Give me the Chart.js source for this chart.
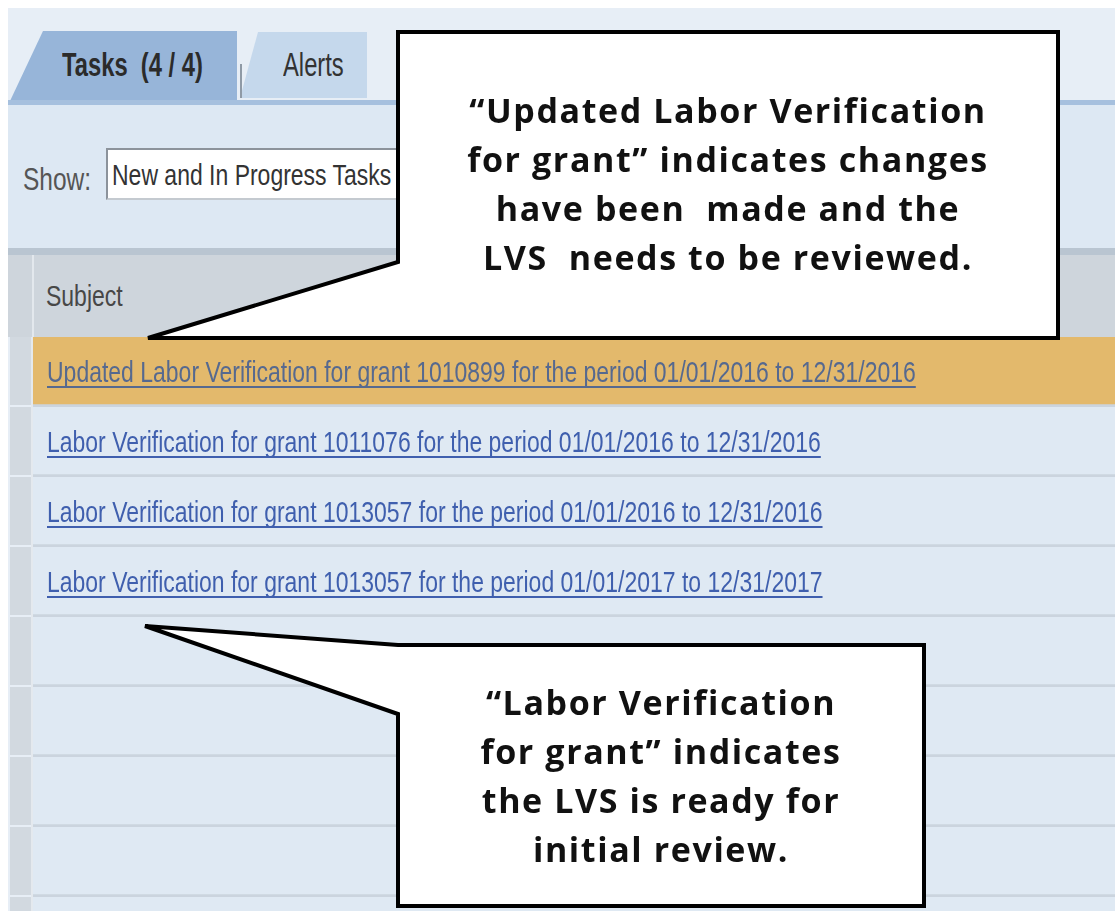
<!DOCTYPE HTML>
<html>
  <head>
    <script src="https://cdn.jsdelivr.net/npm/chart.js"></script>
    <style>
      body { margin: 0; width: 1115px; height: 911px; overflow: hidden; position: relative; background: #fff; font-family: "Liberation Sans", Arial, sans-serif; }
      .abs { position: absolute; }
      .narrow { display: inline-block; white-space: nowrap; transform: scaleX(0.766); transform-origin: left center; }
      .callout-text { position: absolute; text-align: center; font-family: "Open Sans", sans-serif; font-weight: 700; font-size: 34px; letter-spacing: 1.6px; line-height: 49px; color: #111; white-space: nowrap; }
    </style>
  </head>
  <body>
    <!-- frame and toolbar -->
    <div class="abs" style="left:8px; top:8px; right:0; bottom:0; background:#e7eef6;"></div>
    <div class="abs" style="left:10px; top:31px; width:227px; height:70px; background:#97b5d9; clip-path: polygon(33px 0, 100% 0, 100% 100%, 0 100%);"></div>
    <div class="abs" style="left:240px; top:32px; width:127px; height:66px; background:#c5d8ec; clip-path: polygon(18px 0, 100% 0, 100% 100%, 0 100%);"></div>
    <div class="abs" style="left:240px; top:64px; width:2px; height:34px; background:#8f9aa6;"></div>
    <div class="abs" style="left:62px; top:46px; font-size:33px; font-weight:bold; color:#2b2b2b;"><span class="narrow" style="transform:scaleX(0.72)">Tasks&nbsp; (4 / 4)</span></div>
    <div class="abs" style="left:283px; top:46px; font-size:33px; color:#333;"><span class="narrow" style="transform:scaleX(0.72)">Alerts</span></div>
    <div class="abs" style="left:8px; top:100px; right:0; height:5px; background:#a6c0de;"></div>
    <div class="abs" style="left:8px; top:105px; right:0; height:143px; background:#dde8f3;"></div>
    <div class="abs" style="left:23px; top:162px; font-size:31px; color:#555;"><span class="narrow" style="transform:scaleX(0.79)">Show:</span></div>
    <div class="abs" style="left:106px; top:148px; width:400px; height:48px; background:#fff; border-top:2px solid #8c939b; border-left:2px solid #8c939b; border-bottom:2px solid #c4cad0;"></div>
    <div class="abs" style="left:112px; top:158px; font-size:30px; color:#333;"><span class="narrow">New and In Progress Tasks</span></div>
    <div class="abs" style="left:8px; top:248px; right:0; height:7px; background:#b9c5d1;"></div>
    <div class="abs" style="left:8px; top:255px; right:0; height:82px; background:#ced5dc;"></div>
    <div class="abs" style="left:32px; top:255px; width:2px; height:82px; background:#e3e8ed;"></div>
    <div class="abs" style="left:46px; top:279px; font-size:30px; color:#474747;"><span class="narrow">Subject</span></div>

    <!-- task rows -->
    <div class="abs" style="left:10px; top:337px; width:1105px; height:630px;">
      <canvas id="task-chart"></canvas>
    </div>

    <!-- callouts -->
    <svg class="abs" style="left:0; top:0;" width="1115" height="911">
      <polygon points="398,32 1058,32 1058,338 148,338 398,262" fill="#fff" stroke="#000" stroke-width="4" stroke-linejoin="miter"/>
      <polygon points="145,626 398,645 924,645 924,906 398,906 398,714" fill="#fff" stroke="#000" stroke-width="4" stroke-linejoin="miter"/>
    </svg>
    <div class="callout-text" style="left:398px; width:660px; top:86px;">“Updated Labor Verification<br>for grant” indicates changes<br>have been&nbsp; made and the<br>LVS&nbsp; needs to be reviewed.</div>
    <div class="callout-text" style="left:398px; width:526px; top:678px;">“Labor Verification<br>for grant” indicates<br>the LVS is ready for<br>initial review.</div>

    <script>
      const subjects = [
        'Updated Labor Verification for grant 1010899 for the period 01/01/2016 to 12/31/2016',
        'Labor Verification for grant 1011076 for the period 01/01/2016 to 12/31/2016',
        'Labor Verification for grant 1013057 for the period 01/01/2016 to 12/31/2016',
        'Labor Verification for grant 1013057 for the period 01/01/2017 to 12/31/2017'
      ];
      const emptyRows = 5;
      const selectedRow = 0;

      const rows = subjects.concat(Array(emptyRows).fill(''));
      const rowValues = rows.map(function() { return 1; });

      // selector column cells and underlined link text, placed on each bar
      const rowCells = {
        id: 'rowCells',
        afterDatasetsDraw: function(chart) {
          const ctx = chart.ctx;
          const left = chart.chartArea.left;
          chart.getDatasetMeta(0).data.forEach(function(bar, i) {
            const top = bar.y - bar.height / 2;
            ctx.fillStyle = '#d2d9e0';
            ctx.fillRect(0, top, left - 1, bar.height - 2);
            ctx.fillStyle = '#e4e9ee';
            ctx.fillRect(left - 1, top, 2, bar.height);
            if (!rows[i]) return;
            const color = i === selectedRow ? '#56698f' : '#3f5fae';
            const base = bar.y + 10;
            ctx.save();
            ctx.translate(left + 15, base);
            ctx.scale(0.766, 1);
            ctx.font = '30px "Liberation Sans", Arial, sans-serif';
            ctx.fillStyle = color;
            ctx.textBaseline = 'alphabetic';
            ctx.fillText(rows[i], 0, 0);
            const w = ctx.measureText(rows[i]).width;
            ctx.fillRect(0, 4, w, 2);
            ctx.restore();
          });
        }
      };

      const task_context = document.getElementById('task-chart');
      task_chart = new Chart(task_context, {
        type: 'bar',
        data: {
          labels: rows,
          datasets: [{
            data: rowValues,
            backgroundColor: rows.map(function(r, i) { return i === selectedRow ? '#e3b96c' : '#dfe9f3'; }),
            borderColor: '#cbd4de',
            borderWidth: { top: 0, right: 0, bottom: 3, left: 0 },
            borderSkipped: false,
            barPercentage: 1,
            categoryPercentage: 1
          }]
        },
        options: {
          indexAxis: 'y',
          responsive: true,
          maintainAspectRatio: false,
          animation: false,
          layout: { padding: { left: 22, right: 0, top: 0, bottom: 0 } },
          scales: {
            x: { display: false, min: 0, max: 1 },
            y: { display: false }
          },
          plugins: { legend: { display: false }, tooltip: { enabled: false } }
        },
        plugins: [rowCells]
      });
    </script>
  </body>
</html>
